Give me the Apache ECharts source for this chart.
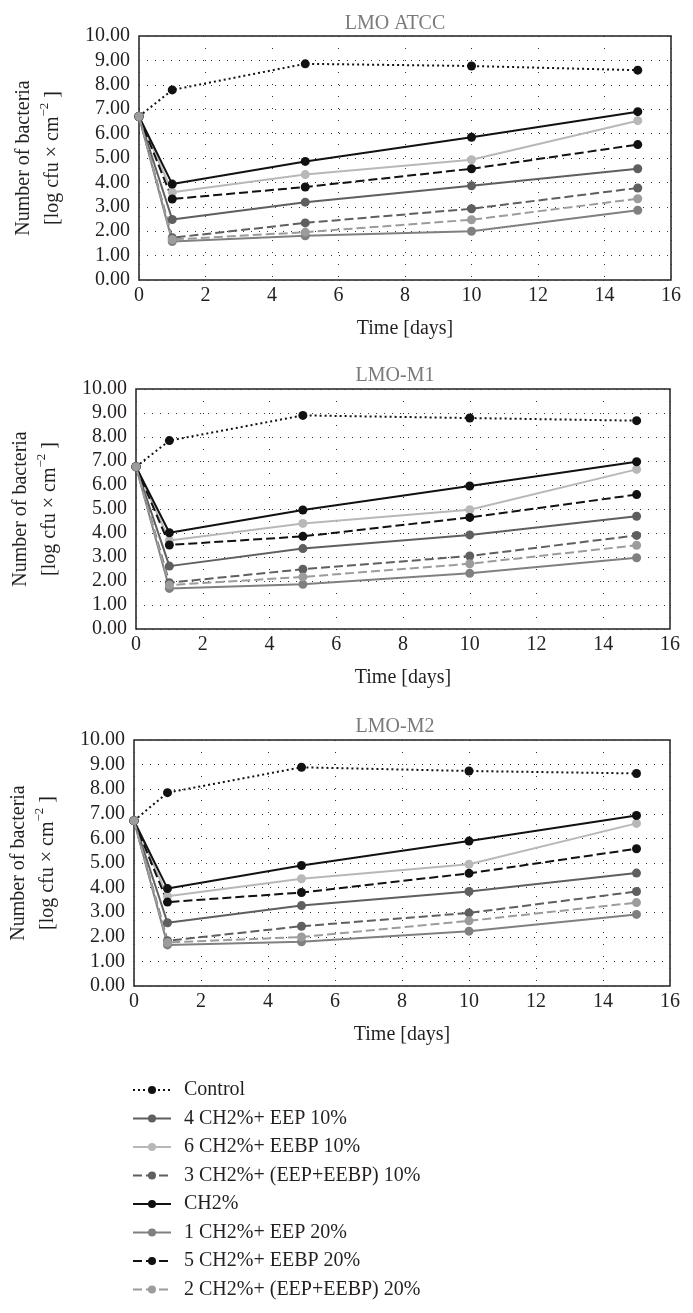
<!DOCTYPE html>
<html>
<head>
<meta charset="utf-8">
<script src="https://cdn.jsdelivr.net/npm/echarts@6/dist/echarts.min.js"></script>
<style>
html,body{margin:0;padding:0;background:#fff;}
#c{width:693px;height:1313px;}
</style>
</head>
<body>
<div id="c"></div>
<script>
// ---- data ----
const days = [0, 1, 5, 10, 15];
const xTicks = [0, 2, 4, 6, 8, 10, 12, 14, 16];
const yTicks = [0, 1, 2, 3, 4, 5, 6, 7, 8, 9, 10];
const panelTitles = ['LMO ATCC', 'LMO-M1', 'LMO-M2'];
const seriesNames = ['Control', '4 CH2%+ EEP 10%', '6 CH2%+ EEBP 10%', '3 CH2%+ (EEP+EEBP) 10%',
  'CH2%', '1 CH2%+ EEP 20%', '5 CH2%+ EEBP 20%', '2 CH2%+ (EEP+EEBP) 20%'];

// LMO ATCC
const atccControl = [6.70, 7.79, 8.86, 8.77, 8.60];
const atccEep10   = [6.70, 2.48, 3.19, 3.86, 4.56];
const atccEebp10  = [6.70, 3.60, 4.32, 4.93, 6.53];
const atccMix10   = [6.70, 1.73, 2.34, 2.92, 3.77];
const atccCh2     = [6.70, 3.93, 4.86, 5.85, 6.90];
const atccEep20   = [6.70, 1.58, 1.81, 2.00, 2.86];
const atccEebp20  = [6.70, 3.32, 3.81, 4.56, 5.55];
const atccMix20   = [6.70, 1.66, 1.96, 2.47, 3.33];

// LMO-M1
const m1Control = [6.76, 7.85, 8.90, 8.79, 8.68];
const m1Eep10   = [6.76, 2.62, 3.35, 3.92, 4.70];
const m1Eebp10  = [6.76, 3.69, 4.40, 4.97, 6.65];
const m1Mix10   = [6.76, 1.93, 2.49, 3.04, 3.90];
const m1Ch2     = [6.76, 4.01, 4.96, 5.96, 6.97];
const m1Eep20   = [6.76, 1.69, 1.86, 2.32, 2.97];
const m1Eebp20  = [6.76, 3.50, 3.86, 4.65, 5.60];
const m1Mix20   = [6.76, 1.83, 2.17, 2.72, 3.49];

// LMO-M2
const m2Control = [6.72, 7.86, 8.89, 8.74, 8.64];
const m2Eep10   = [6.72, 2.57, 3.27, 3.84, 4.59];
const m2Eebp10  = [6.72, 3.65, 4.36, 4.95, 6.61];
const m2Mix10   = [6.72, 1.84, 2.43, 2.97, 3.84];
const m2Ch2     = [6.72, 3.96, 4.90, 5.89, 6.93];
const m2Eep20   = [6.72, 1.67, 1.80, 2.23, 2.91];
const m2Eebp20  = [6.72, 3.41, 3.80, 4.58, 5.58];
const m2Mix20   = [6.72, 1.77, 1.99, 2.65, 3.39];

const panels = [
  [atccControl, atccEep10, atccEebp10, atccMix10, atccCh2, atccEep20, atccEebp20, atccMix20],
  [m1Control, m1Eep10, m1Eebp10, m1Mix10, m1Ch2, m1Eep20, m1Eebp20, m1Mix20],
  [m2Control, m2Eep10, m2Eebp10, m2Mix10, m2Ch2, m2Eep20, m2Eebp20, m2Mix20]
];

// ---- styles ----
const FONT = 'Liberation Serif';
const TXT = '#231f20';
const styles = [
  {color: '#111111', type: [2, 3]},
  {color: '#5f5f5f', type: 'solid'},
  {color: '#b8b8b8', type: 'solid'},
  {color: '#5f5f5f', type: [9, 4]},
  {color: '#111111', type: 'solid'},
  {color: '#808080', type: 'solid'},
  {color: '#111111', type: [9, 4]},
  {color: '#9c9c9c', type: [9, 4]}
];
const grids = [
  {left: 139, right: 22, top: 36, height: 244},
  {left: 136, right: 23, top: 389, height: 240},
  {left: 134, right: 23, top: 740, height: 246}
];
const titleTops = [7, 359, 710];

const option = {
  backgroundColor: '#fff',
  animation: false,
  title: panelTitles.map((t, i) => ({
    text: t, left: 390, top: titleTops[i], textAlign: 'center',
    textStyle: {fontFamily: FONT, fontSize: 20, fontWeight: 'normal', color: '#7a7a7a', lineHeight: 24}
  })),
  grid: grids.map(g => Object.assign({show: true, borderColor: '#231f20', borderWidth: 1.5, containLabel: false}, g)),
  xAxis: grids.map((g, i) => ({
    type: 'value', gridIndex: i, min: xTicks[0], max: xTicks[xTicks.length - 1], interval: 2,
    name: 'Time [days]', nameLocation: 'middle', nameGap: 39,
    nameTextStyle: {fontFamily: FONT, fontSize: 20, color: TXT},
    axisLine: {show: false}, axisTick: {show: false},
    axisLabel: {fontFamily: FONT, fontSize: 20, color: TXT, margin: 6},
    splitLine: {show: true, lineStyle: {color: '#333', width: 1, type: [1, 11]}}
  })),
  yAxis: grids.map((g, i) => ({
    type: 'value', gridIndex: i, min: yTicks[0], max: yTicks[yTicks.length - 1], interval: 1,
    name: '{a|Number of bacteria}\n{a|[log cfu × cm}{s|−2}{a| ]}',
    nameLocation: 'middle', nameRotate: 90, nameGap: 72,
    nameTextStyle: {
      rich: {
        a: {fontFamily: FONT, fontSize: 20, color: TXT, lineHeight: 29},
        s: {fontFamily: FONT, fontSize: 13, color: TXT, lineHeight: 29, verticalAlign: 'top', padding: [0, 0, 6, 0]}
      }
    },
    axisLine: {show: false}, axisTick: {show: false},
    axisLabel: {fontFamily: FONT, fontSize: 20, color: TXT, margin: 9, formatter: v => v.toFixed(2)},
    splitLine: {show: true, lineStyle: {color: '#333', width: 1, type: [1, 7]}}
  })),
  legend: {
    data: seriesNames, orient: 'vertical', left: 132, top: 1080, padding: 0,
    itemWidth: 38, itemHeight: 10, itemGap: 8.5,
    textStyle: {fontFamily: FONT, fontSize: 20, color: TXT, lineHeight: 20, padding: [0, 0, 0, 8]}
  },
  series: []
};

panels.forEach((panel, pi) => {
  panel.forEach((vals, si) => {
    const st = styles[si];
    option.series.push({
      type: 'line', name: seriesNames[si], xAxisIndex: pi, yAxisIndex: pi,
      data: days.map((d, k) => [d, vals[k]]),
      symbol: 'circle', symbolSize: 9, showAllSymbol: true,
      lineStyle: {color: st.color, width: 2, type: st.type},
      itemStyle: {color: st.color},
      z: 3
    });
  });
});

const chart = echarts.init(document.getElementById('c'), null, {renderer: 'canvas'});
chart.setOption(option);
</script>
</body>
</html>
